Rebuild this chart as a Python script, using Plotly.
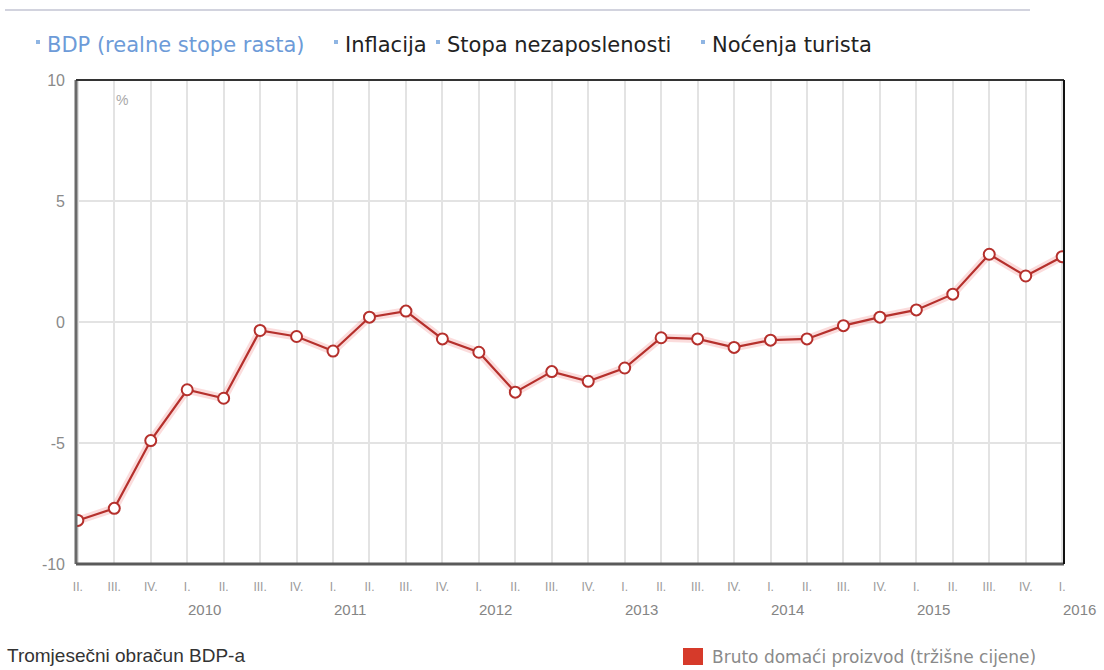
import plotly.graph_objects as go

# Quarterly GDP real growth rates (%), II. 2009 – I. 2016
quarters = ["II.", "III.", "IV.",
            "I.", "II.", "III.", "IV.",
            "I.", "II.", "III.", "IV.",
            "I.", "II.", "III.", "IV.",
            "I.", "II.", "III.", "IV.",
            "I.", "II.", "III.", "IV.",
            "I.", "II.", "III.", "IV.",
            "I."]
gdp_growth = [-8.2, -7.7, -4.9,
              -2.8, -3.15, -0.35, -0.6,
              -1.2, 0.2, 0.45, -0.7,
              -1.25, -2.9, -2.05, -2.45,
              -1.9, -0.65, -0.7, -1.05,
              -0.75, -0.7, -0.15, 0.2,
              0.5, 1.15, 2.8, 1.9,
              2.7]
years = ["2010", "2011", "2012", "2013", "2014", "2015", "2016"]
year_positions = [3, 7, 11, 15, 19, 23, 27]
y_ticks = [-10, -5, 0, 5, 10]
y_tick_text = ["-10", "-5", "0", "5", "10"]

tab_labels = ["BDP (realne stope rasta)", "Inflacija",
              "Stopa nezaposlenosti", "Noćenja turista"]

x_idx = list(range(len(quarters)))

LINE_RED = "#b5302c"
GRID = "#e3e3e3"

# plot-area pixel geometry helpers (figure is 1104 x 670)
L, R, T, B = 76, 1064, 80, 564
W, H = R - L, B - T


def px(xp):
    return (xp - L) / W


def py(yp):
    return (B - yp) / H


fig = go.Figure()

# soft halo under the series line
fig.add_trace(go.Scatter(
    x=x_idx, y=gdp_growth, mode="lines",
    line=dict(color="rgba(235,95,95,0.22)", width=8),
    hoverinfo="skip", showlegend=False,
))
fig.add_trace(go.Scatter(
    x=x_idx, y=gdp_growth, mode="lines+markers",
    line=dict(color=LINE_RED, width=2.2),
    marker=dict(size=11, color="white", line=dict(color=LINE_RED, width=2)),
    showlegend=False, name="BDP",
))

fig.update_xaxes(
    range=[-0.05, 27.05],
    tickmode="array", tickvals=x_idx, ticktext=quarters,
    tickfont=dict(family="Liberation Sans", size=12, color="#9a9a9a"),
    ticks="outside", ticklen=12, tickcolor="rgba(0,0,0,0)",
    showgrid=True, gridcolor=GRID, gridwidth=1.5,
    showline=False, zeroline=False,
)
fig.update_yaxes(
    range=[-10, 10],
    tickmode="array", tickvals=y_ticks, ticktext=y_tick_text,
    tickfont=dict(family="Liberation Sans", size=16, color="#8a8a8a"),
    ticklabelstandoff=10,
    showgrid=True, gridcolor=GRID, gridwidth=1.5,
    showline=False, zeroline=False,
)

shapes = [
    # plot frame: grey left/bottom, dark top/right
    dict(type="line", xref="paper", yref="paper", x0=0, x1=0, y0=0, y1=1,
         line=dict(color="#6a6a6a", width=3)),
    dict(type="line", xref="paper", yref="paper", x0=0, x1=1, y0=0, y1=0,
         line=dict(color="#5a5a5a", width=3)),
    dict(type="line", xref="paper", yref="paper", x0=0, x1=1, y0=1, y1=1,
         line=dict(color="#333333", width=2)),
    dict(type="line", xref="paper", yref="paper", x0=1, x1=1, y0=0, y1=1,
         line=dict(color="#111111", width=2)),
    # faint rule across the top of the page
    dict(type="line", xref="paper", yref="paper", x0=px(5), x1=px(1030),
         y0=py(10), y1=py(10), line=dict(color="#d2d3de", width=2)),
    # red swatch of the bottom legend
    dict(type="rect", xref="paper", yref="paper", x0=px(683), x1=px(703),
         y0=py(665), y1=py(648), line=dict(width=0), fillcolor="#d63a2a"),
]

# tab row above the chart: small bullet + label
tab_text_x = [45, 343, 445, 710]
tab_colors = ["#6d9bd8", "#222222", "#222222", "#222222"]
annotations = []
for label, tx, col in zip(tab_labels, tab_text_x, tab_colors):
    shapes.append(dict(
        type="rect", xref="paper", yref="paper",
        x0=px(tx - 9), x1=px(tx - 5), y0=py(44), y1=py(40),
        line=dict(width=0), fillcolor="#8fb5e3",
    ))
    annotations.append(dict(
        text=label, x=px(tx), y=py(45), xref="paper", yref="paper",
        xanchor="left", yanchor="middle", showarrow=False,
        font=dict(family="DejaVu Sans", size=21, color=col),
    ))

# year labels under the first quarter of each year
for pos, yr in zip(year_positions, years):
    annotations.append(dict(
        text=yr, x=pos, xref="x", y=py(609), yref="paper",
        xanchor="center", yanchor="middle", xshift=17, showarrow=False,
        font=dict(family="Liberation Sans", size=15, color="#858585"),
    ))

annotations += [
    dict(text="%", x=px(122), y=py(100), xref="paper", yref="paper",
         xanchor="center", yanchor="middle", showarrow=False,
         font=dict(family="Liberation Sans", size=14, color="#a8a8a8")),
    dict(text="Tromjesečni obračun BDP-a", x=px(5), y=py(655),
         xref="paper", yref="paper", xanchor="left", yanchor="middle",
         showarrow=False,
         font=dict(family="Liberation Sans", size=19, color="#333333")),
    dict(text="Bruto domaći proizvod (tržišne cijene)", x=px(710), y=py(657),
         xref="paper", yref="paper", xanchor="left", yanchor="middle",
         showarrow=False,
         font=dict(family="DejaVu Sans", size=17, color="#8a8a8a")),
]

fig.update_layout(
    width=1104, height=670,
    margin=dict(l=L, r=1104 - R, t=T, b=670 - B),
    paper_bgcolor="white", plot_bgcolor="white",
    shapes=shapes, annotations=annotations,
    showlegend=False,
)

fig.write_html("out.html")
